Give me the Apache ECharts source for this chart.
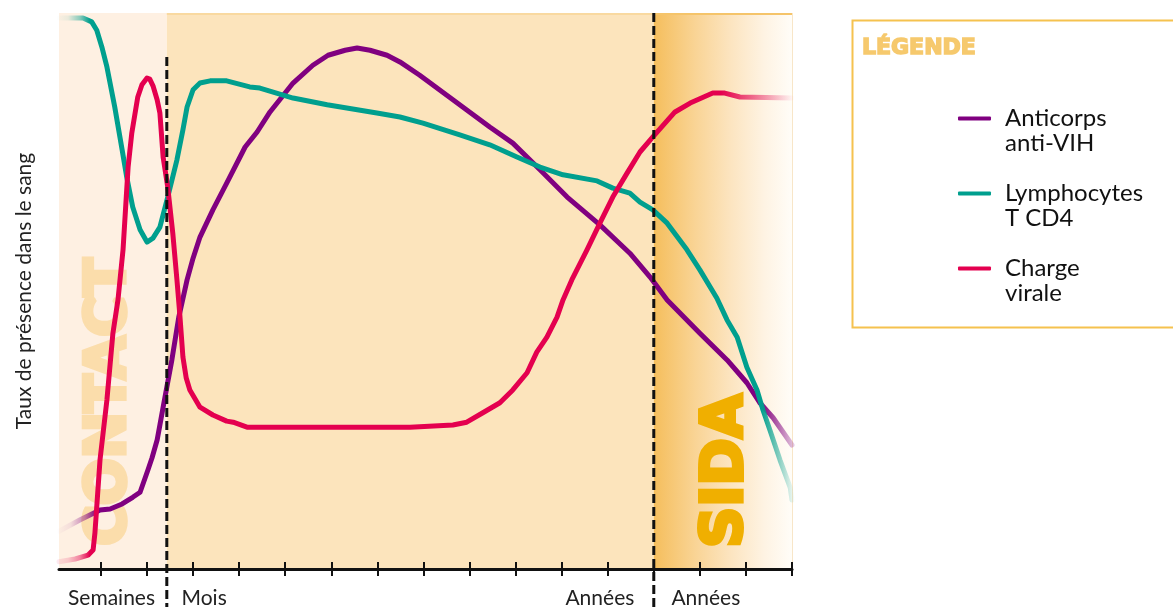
<!DOCTYPE html>
<html>
<head>
<meta charset="utf-8">
<script src="https://cdn.jsdelivr.net/npm/echarts@6/dist/echarts.min.js"></script>
<style>
  html, body { margin: 0; padding: 0; background: #fff; }
  #chart { width: 1173px; height: 607px; }
</style>
</head>
<body>
<div id="chart"></div>
<script>
// x: time units (one tick per unit), y: relative level (0-100)
const xTicks = [1, 2, 3, 4, 5, 6, 7, 8, 9, 10, 11, 12, 13, 14, 15, 16]
const xLabelPos = [1.23, 3.24, 11.83, 14.13]
const xLabelText = ['Semaines', 'Mois', 'Années', 'Années']

const phaseStart = [0.09, 2.43, 13]
const phaseEnd = [2.43, 13, 16]
const dashX = [2.43, 13]
const dashTop = [92.1, 100]

const anticorpsX = [0.09, 0.54, 0.98, 1.20, 1.46, 1.69, 1.85, 2.02, 2.11, 2.22, 2.28, 2.35, 2.43, 2.54, 2.69, 2.87, 3.00, 3.15, 3.43, 3.73, 4.13, 4.39, 4.67, 5.17, 5.60, 5.93, 6.30, 6.56, 6.84, 7.21, 7.49, 7.92, 8.64, 9.44, 9.94, 10.53, 11.12, 11.83, 12.48, 12.92, 13.29, 14.00, 14.59, 15.02, 15.30, 15.59, 16.0]
const anticorpsY = [6.8, 8.8, 10.6, 10.8, 11.7, 12.9, 13.8, 17.8, 20.0, 23.2, 25.9, 29.1, 32.7, 37.6, 45.3, 52.0, 55.9, 59.7, 64.6, 69.4, 75.9, 78.6, 82.2, 87.4, 90.6, 92.4, 93.3, 93.7, 93.3, 92.4, 91.2, 88.8, 84.4, 79.5, 76.6, 71.8, 66.9, 61.9, 56.8, 52.5, 48.4, 42.4, 37.6, 33.5, 29.9, 27.2, 22.3]

const cd4X = [0.09, 0.61, 0.80, 0.91, 1.02, 1.13, 1.30, 1.46, 1.56, 1.69, 1.85, 2.00, 2.13, 2.28, 2.45, 2.65, 2.78, 2.87, 3.00, 3.15, 3.37, 3.73, 4.23, 4.45, 5.17, 5.91, 6.99, 7.49, 7.99, 8.79, 9.44, 10.03, 10.53, 11.03, 11.77, 12.11, 12.48, 12.70, 12.98, 13.29, 13.72, 14.00, 14.37, 14.59, 14.81, 15.02, 15.24, 15.37, 15.52, 15.74, 15.96, 16.0]
const cd4Y = [99.1, 99.1, 98.4, 96.9, 93.9, 90.3, 83.1, 75.4, 70.5, 65.1, 61.0, 58.8, 59.5, 61.5, 66.9, 73.6, 79.0, 83.1, 86.2, 87.4, 87.8, 87.8, 86.7, 86.5, 84.7, 83.5, 82.0, 81.3, 80.2, 78.1, 76.3, 74.1, 72.3, 70.9, 69.8, 68.5, 67.6, 66.0, 64.6, 62.2, 57.4, 53.8, 48.7, 44.8, 41.7, 36.3, 32.2, 28.6, 25.0, 19.6, 14.7, 12.4]

const chargeX = [0.09, 0.44, 0.72, 0.83, 0.87, 0.98, 1.13, 1.26, 1.37, 1.48, 1.59, 1.67, 1.80, 1.89, 2.00, 2.06, 2.13, 2.22, 2.28, 2.35, 2.45, 2.56, 2.65, 2.71, 2.78, 2.85, 2.93, 3.15, 3.43, 3.73, 3.87, 4.17, 7.71, 8.64, 8.94, 9.29, 9.66, 9.94, 10.25, 10.46, 10.68, 10.90, 11.03, 11.22, 11.55, 11.83, 12.11, 12.42, 12.70, 12.98, 13.46, 13.79, 14.28, 14.54, 14.87, 16.0]
const chargeY = [1.3, 1.8, 2.5, 3.4, 6.5, 19.6, 30.4, 42.4, 48.4, 57.4, 72.3, 78.4, 84.9, 87.1, 88.3, 88.1, 86.9, 84.4, 82.0, 74.1, 68.7, 60.4, 52.0, 46.0, 38.1, 34.4, 32.2, 29.1, 27.7, 26.6, 26.4, 25.5, 25.5, 25.9, 26.4, 28.1, 29.9, 32.2, 35.3, 39.0, 41.7, 45.3, 48.4, 52.0, 57.4, 62.2, 66.9, 71.2, 75.0, 77.7, 82.2, 83.8, 85.6, 85.6, 84.9, 84.7]

const PURPLE = '#800080'
const TEAL = '#009F8E'
const RED = '#E4004F'

const zip = (xs, ys) => xs.map((x, i) => [x, ys[i]])

// colour faded at both ends of the curve (offsets along the curve's width)
const fade = (rgb, c, a, b, endAlpha, startAlpha) => new echarts.graphic.LinearGradient(0, 0, 1, 0, [
    { offset: 0, color: `rgba(${rgb},${startAlpha})` },
    { offset: a * 0.35, color: `rgba(${rgb},${startAlpha + 0.08})` },
    { offset: a * 0.7, color: `rgba(${rgb},0.45)` },
    { offset: a, color: c },
    { offset: b, color: c },
    { offset: 1, color: `rgba(${rgb},${endAlpha})` }
])

const phaseFill = [
    '#FEF0E2',
    '#FCE4BC',
    new echarts.graphic.LinearGradient(0, 0, 1, 0, [
        { offset: 0, color: '#F5BE5C' },
        { offset: 0.3, color: '#F9D495' },
        { offset: 0.55, color: '#FCE4BF' },
        { offset: 0.8, color: '#FEF3E3' },
        { offset: 1, color: '#FFFDF8' }
    ])
]

const chart = echarts.init(document.getElementById('chart'))

const lineSeries = (name, data, color, z) => ({
    name,
    type: 'line',
    data,
    z,
    symbol: 'none',
    smooth: false,
    lineStyle: { width: 5, color, join: 'round', cap: 'round' }
})

chart.setOption({
    animation: false,
    textStyle: { fontFamily: 'Lato' },
    grid: { left: 59, right: 381, top: 13, bottom: 38, outerBoundsMode: 'none' },
    title: {
        text: 'LÉGENDE',
        left: 862,
        top: 37,
        padding: 0,
        textStyle: {
            color: '#F6C96D', fontSize: 22, fontWeight: 900, fontFamily: 'DejaVu Sans',
            textBorderColor: '#F6C96D', textBorderWidth: 1.5
        }
    },
    legend: {
        orient: 'vertical',
        left: 958,
        top: 81,
        padding: 0,
        itemGap: 0,
        itemWidth: 33,
        itemHeight: 4,
        icon: 'roundRect',
        selectedMode: false,
        // empty first line keeps the icon level with the first text line
        formatter: name => '{t| }\n' + name.split('\n').map(s => '{t|' + s + '}').join('\n'),
        textStyle: {
            fontSize: 24, color: '#111', lineHeight: 25, fontFamily: 'Lato',
            rich: { t: { fontSize: 24, lineHeight: 25, color: '#111', fontFamily: 'Lato', padding: [0, 0, 0, 9] } }
        },
        data: [
            { name: 'Anticorps\nanti-VIH', itemStyle: { color: PURPLE } },
            { name: 'Lymphocytes\nT CD4', itemStyle: { color: TEAL } },
            { name: 'Charge\nvirale', itemStyle: { color: RED } }
        ]
    },
    graphic: [
        {
            type: 'rect', left: 850, top: 18, z: 10,
            shape: { width: 330, height: 307 },
            style: { fill: 'none', stroke: '#F5C24F', lineWidth: 2 }
        },
        {
            type: 'text', x: 110, y: 402, rotation: Math.PI / 2, z: 1,
            style: {
                text: 'CONTACT', fill: '#FBDDAB', stroke: '#FBDDAB', lineWidth: 4.5,
                font: '900 55px "DejaVu Sans"', align: 'center', verticalAlign: 'middle'
            }
        },
        {
            type: 'text', x: 727, y: 471, rotation: Math.PI / 2, z: 1,
            style: {
                text: 'SIDA', fill: '#F0AF00', stroke: '#F0AF00', lineWidth: 4,
                font: '900 57px "DejaVu Sans"', align: 'center', verticalAlign: 'middle'
            }
        }
    ],
    xAxis: [
        {
            type: 'value',
            min: 0.09,
            max: 16,
            splitLine: { show: false },
            axisLine: { lineStyle: { color: '#111', width: 3 } },
            axisTick: { customValues: xTicks, length: 7, lineStyle: { color: '#111', width: 2 } },
            axisLabel: {
                customValues: xLabelPos,
                margin: 19,
                fontSize: 21,
                color: '#222',
                formatter: v => xLabelText[xLabelPos.indexOf(v)]
            }
        },
        {
            type: 'value',
            min: 0.09,
            max: 16,
            position: 'bottom',
            splitLine: { show: false },
            axisLine: { show: false },
            axisLabel: { show: false },
            axisTick: { inside: true, customValues: xTicks, length: 7, lineStyle: { color: '#111', width: 2 } }
        }
    ],
    yAxis: {
        type: 'value',
        min: 0,
        max: 100,
        name: 'Taux de présence dans le sang',
        nameLocation: 'middle',
        nameRotate: 90,
        nameGap: 24,
        nameTextStyle: { fontSize: 21, color: '#222' },
        axisLine: { show: false },
        axisTick: { show: false },
        axisLabel: { show: false },
        splitLine: { show: false }
    },
    series: [
        {
            type: 'custom',
            name: 'phases',
            z: 0,
            silent: true,
            data: phaseStart.map((s, i) => [s, phaseEnd[i], i]),
            renderItem: (params, api) => {
                const i = api.value(2)
                const p0 = api.coord([api.value(0), 100])
                const p1 = api.coord([api.value(1), 0])
                const w = p1[0] - p0[0]
                const children = [{
                    type: 'rect',
                    shape: { x: p0[0], y: p0[1], width: w, height: p1[1] - p0[1] },
                    style: { fill: phaseFill[i] }
                }]
                if (i > 0) {
                    children.push({
                        type: 'rect',
                        shape: { x: p0[0], y: p0[1], width: w, height: 2 },
                        style: { fill: i === 2 ? '#F5C46A' : '#F9D9A0' }
                    })
                }
                if (i === 2) {
                    children.push({
                        type: 'rect',
                        shape: { x: p1[0], y: p0[1], width: 1, height: p1[1] - p0[1] },
                        style: { fill: '#F8E6C8' }
                    })
                }
                return { type: 'group', children }
            }
        },
        lineSeries('Anticorps\nanti-VIH', zip(anticorpsX, anticorpsY), fade('128,0,128', PURPLE, 0.055, 0.955, 0.2, 0), 3),
        lineSeries('Lymphocytes\nT CD4', zip(cd4X, cd4Y), fade('0,159,142', TEAL, 0.045, 0.955, 0.02, 0), 4),
        lineSeries('Charge\nvirale', zip(chargeX, chargeY), fade('228,0,79', RED, 0.045, 0.9, 0, 0.08), 5),
        {
            type: 'custom',
            name: 'limits',
            z: 6,
            silent: true,
            clip: false,
            data: dashX.map((x, i) => [x, dashTop[i], -7]),
            renderItem: (params, api) => {
                const a = api.coord([api.value(0), api.value(1)])
                const b = api.coord([api.value(0), api.value(2)])
                return {
                    type: 'line',
                    shape: { x1: a[0], y1: a[1], x2: b[0], y2: b[1] },
                    style: { stroke: '#111', lineWidth: 3, lineDash: [9, 4] }
                }
            }
        }
    ]
})
</script>
</body>
</html>
